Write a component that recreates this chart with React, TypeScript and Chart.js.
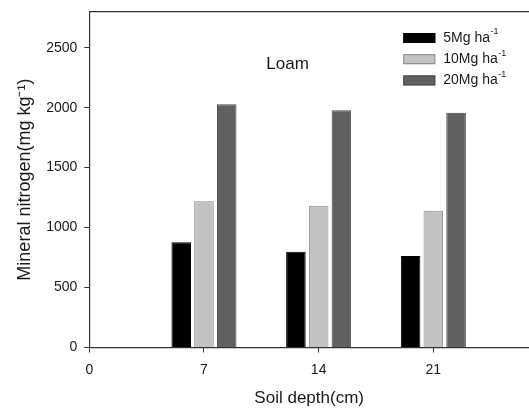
import React, { useEffect, useRef } from 'react';
import { Chart, registerables } from 'chart.js';

Chart.register(...registerables);

// ---- data ----
const depths = [7, 14, 21];
const rate5 = [877, 798, 763];
const rate10 = [1220, 1182, 1140];
const rate20 = [2028, 1978, 1958];
const seriesLabels = ['5Mg ha⁻¹', '10Mg ha⁻¹', '20Mg ha⁻¹'];
const xTickValues = [0, 7, 14, 21];
const yTickValues = [0, 500, 1000, 1500, 2000, 2500];
const xMax = 26.84; // plot is cut at the right edge of the figure
const yMax = 2800;
const panelLabel = 'Loam';
const xTitle = 'Soil depth(cm)';
const yTitle = 'Mineral nitrogen(mg kg⁻¹)';

const FONT = '"Liberation Sans", Arial, sans-serif';
const AXIS = '#333333';

const fills = ['#000000', '#c2c2c2', '#606060'];
const borders = ['#000000', '#8a8a8a', '#4a4a4a'];

const topLinePlugin = {
  id: 'topLine',
  afterDraw(chart: any) {
    const { ctx, chartArea } = chart;
    ctx.save();
    ctx.strokeStyle = AXIS;
    ctx.lineWidth = 1.2;
    ctx.beginPath();
    ctx.moveTo(chartArea.left, chartArea.top);
    ctx.lineTo(chartArea.right, chartArea.top);
    ctx.stroke();
    ctx.restore();
  },
};

const panelTextPlugin = {
  id: 'panelText',
  afterDraw(chart: any) {
    const { ctx, scales } = chart;
    const x = scales.x.getPixelForValue(12.1);
    const y = scales.y.getPixelForValue(2360);
    ctx.save();
    ctx.fillStyle = '#1a1a1a';
    ctx.font = `17px ${FONT}`;
    ctx.textAlign = 'center';
    ctx.textBaseline = 'middle';
    ctx.fillText(panelLabel, x, y);
    ctx.restore();
  },
};

const legendPlugin = {
  id: 'insideLegend',
  afterDraw(chart: any) {
    const { ctx, chartArea } = chart;
    const boxX = chartArea.left + 314;
    const boxW = 32;
    const boxH = 10;
    const textX = chartArea.left + 354;
    ctx.save();
    chart.data.datasets.forEach((ds: any, i: number) => {
      const cy = chartArea.top + 26.3 + i * 21.2;
      ctx.fillStyle = ds.backgroundColor;
      ctx.fillRect(boxX, cy - boxH / 2, boxW, boxH);
      ctx.strokeStyle = ds.borderColor;
      ctx.lineWidth = 1;
      ctx.strokeRect(boxX + 0.5, cy - boxH / 2 + 0.5, boxW - 1, boxH - 1);
      const label: string = ds.label;
      const parts = label.split('⁻¹');
      ctx.fillStyle = '#1a1a1a';
      ctx.textBaseline = 'middle';
      ctx.textAlign = 'left';
      ctx.font = `14px ${FONT}`;
      ctx.fillText(parts[0], textX, cy);
      const w = ctx.measureText(parts[0]).width;
      if (label.indexOf('⁻¹') >= 0) {
        ctx.font = `9px ${FONT}`;
        ctx.fillText('-1', textX + w + 0.5, cy - 6);
      }
    });
    ctx.restore();
  },
};

export default function App() {
  const ref = useRef<HTMLCanvasElement | null>(null);

  useEffect(() => {
    if (!ref.current) return;
    const makeData = (vals: number[]) => depths.map((d, i) => ({ x: d, y: vals[i] }));
    const chart = new Chart(ref.current, {
      type: 'bar',
      data: {
        datasets: [rate5, rate10, rate20].map((vals, i) => ({
          label: seriesLabels[i],
          data: makeData(vals),
          backgroundColor: fills[i],
          borderColor: borders[i],
          borderWidth: 1,
          categoryPercentage: 0.595,
          barPercentage: 0.86,
        })),
      },
      options: {
        responsive: false,
        animation: false,
        devicePixelRatio: 1,
        layout: { padding: { left: 0, top: 11.7, right: 0, bottom: 0 } },
        plugins: {
          legend: { display: false },
          tooltip: { enabled: false },
        },
        scales: {
          x: {
            type: 'linear',
            min: 0,
            max: xMax,
            offset: false,
            afterBuildTicks: (scale: any) => {
              scale.ticks = xTickValues.map((v) => ({ value: v }));
            },
            afterFit: (scale: any) => {
              scale.height = 64.5;
              scale.paddingLeft = 0;
              scale.paddingRight = 0;
            },
            ticks: {
              stepSize: 7,
              padding: 9,
              color: '#1a1a1a',
              font: { family: FONT, size: 14 },
              maxRotation: 0,
              callback: (v: any) => String(v),
            },
            grid: {
              display: true,
              offset: false,
              drawOnChartArea: false,
              drawTicks: true,
              tickLength: 5,
              tickColor: AXIS,
              color: AXIS,
            },
            border: { display: true, color: AXIS, width: 1.2 },
            title: {
              display: true,
              text: xTitle,
              color: '#1a1a1a',
              font: { family: FONT, size: 17 },
              padding: { top: 0, bottom: 3 },
            },
          },
          y: {
            type: 'linear',
            min: 0,
            max: yMax,
            afterBuildTicks: (scale: any) => {
              scale.ticks = yTickValues.map((v) => ({ value: v }));
            },
            afterFit: (scale: any) => {
              scale.width = 89.3;
              scale.paddingTop = 0;
              scale.paddingBottom = 0;
            },
            ticks: {
              stepSize: 500,
              padding: 7,
              color: '#1a1a1a',
              font: { family: FONT, size: 14 },
              callback: (v: any) => String(v),
            },
            grid: {
              display: true,
              drawOnChartArea: false,
              drawTicks: true,
              tickLength: 5,
              tickColor: AXIS,
              color: AXIS,
            },
            border: { display: true, color: AXIS, width: 1.2 },
            title: {
              display: true,
              text: yTitle,
              color: '#1a1a1a',
              font: { family: FONT, size: 18 },
              padding: { top: 14, bottom: 0 },
            },
          },
        },
      },
      plugins: [topLinePlugin, panelTextPlugin, legendPlugin],
    } as any);
    return () => chart.destroy();
  }, []);

  return (
    <div
      style={{
        position: 'fixed',
        left: 0,
        top: 0,
        width: 529,
        height: 412,
        overflow: 'hidden',
        background: '#ffffff',
      }}
    >
      <canvas ref={ref} width={529} height={412} style={{ display: 'block' }} />
    </div>
  );
}
